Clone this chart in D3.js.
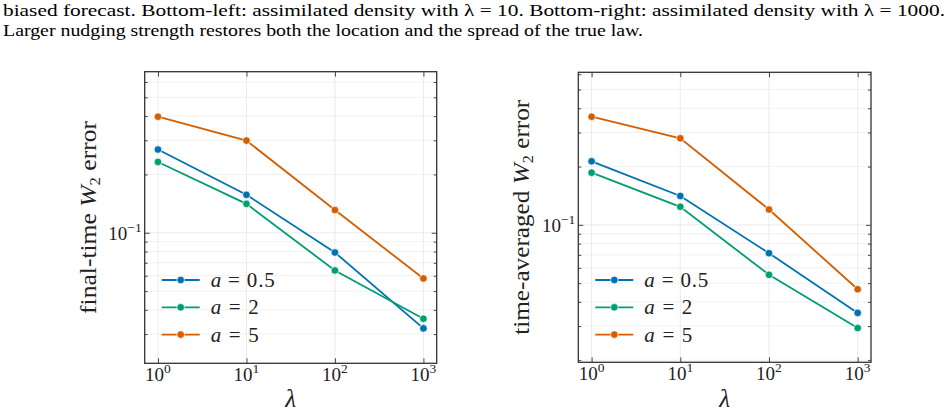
<!DOCTYPE html>
<html>
<head>
<meta charset="utf-8">
<script src="https://cdn.jsdelivr.net/npm/d3@7"></script>
<style>
  body { margin: 0; background: #fff; }
  svg { display: block; }
  .axis path { display: none; }
  .axis line { stroke: #333; stroke-width: 0.9; }
</style>
</head>
<body>
<svg width="951" height="414"></svg>
<script>
const lambdas = [1, 10, 100, 1000];
const xTicks = [1, 10, 100, 1000];
const xExps = ["0", "1", "2", "3"];
const yMajor = [0.1];
const yMinor = [0.02, 0.03, 0.04, 0.05, 0.06, 0.07, 0.08, 0.09, 0.2, 0.3, 0.4, 0.5, 0.6, 0.7];
const seriesNames = ["a = 0.5", "a = 2", "a = 5"];
const seriesColors = ["#0072B2", "#009E73", "#D55E00"];

// final-time W2 error
const finalBlue = [0.269, 0.157, 0.0791, 0.0321];
const finalGreen = [0.232, 0.141, 0.0639, 0.0360];
const finalOrange = [0.397, 0.299, 0.131, 0.0581];

// time-averaged W2 error
const avgBlue = [0.213, 0.141, 0.0714, 0.0351];
const avgGreen = [0.186, 0.124, 0.0552, 0.0293];
const avgOrange = [0.362, 0.280, 0.120, 0.0465];

const caption = [
  "biased forecast. Bottom-left: assimilated density with \u03bb = 10. Bottom-right: assimilated density with \u03bb = 1000.",
  "Larger nudging strength restores both the location and the spread of the true law."
];

const svg = d3.select("svg");
const serif = "'Liberation Serif', 'DejaVu Serif', serif";

svg.append("text")
    .attr("x", 3).attr("y", 16)
    .attr("font-family", serif).attr("font-size", 17)
    .attr("textLength", 942).attr("lengthAdjust", "spacingAndGlyphs")
    .text(caption[0]);
svg.append("text")
    .attr("x", 3).attr("y", 36)
    .attr("font-family", serif).attr("font-size", 17)
    .attr("textLength", 640).attr("lengthAdjust", "spacingAndGlyphs")
    .text(caption[1]);

const drawPanel = (box, yDomain, ylabelPre, ylabelLen, series, ylabelX) => {
    const x = d3.scaleLog().domain([Math.pow(10, -0.15), Math.pow(10, 3.15)]).range([box.left, box.right]);
    const y = d3.scaleLog().domain(yDomain).range([box.bottom, box.top]);
    const g = svg.append("g");

    const inY = (v) => v >= yDomain[0] && v <= yDomain[1];

    // grid
    g.append("g").selectAll("line")
        .data(yMinor.filter(inY))
        .join("line")
        .attr("x1", box.left).attr("x2", box.right)
        .attr("y1", (d) => y(d)).attr("y2", (d) => y(d))
        .attr("stroke", "#ededed").attr("stroke-width", 0.8);
    g.append("g").selectAll("line")
        .data(yMajor)
        .join("line")
        .attr("x1", box.left).attr("x2", box.right)
        .attr("y1", (d) => y(d)).attr("y2", (d) => y(d))
        .attr("stroke", "#e6e6e6").attr("stroke-width", 0.8);
    g.append("g").selectAll("line")
        .data(xTicks)
        .join("line")
        .attr("x1", (d) => x(d)).attr("x2", (d) => x(d))
        .attr("y1", box.top).attr("y2", box.bottom)
        .attr("stroke", "#e6e6e6").attr("stroke-width", 0.8);

    // ticks on all four sides, pointing in
    g.append("g").attr("class", "axis").attr("transform", `translate(0,${box.bottom})`)
        .call(d3.axisBottom(x).tickValues(xTicks).tickSize(-5).tickFormat(""));
    g.append("g").attr("class", "axis").attr("transform", `translate(0,${box.top})`)
        .call(d3.axisTop(x).tickValues(xTicks).tickSize(-5).tickFormat(""));
    g.append("g").attr("class", "axis").attr("transform", `translate(${box.left},0)`)
        .call(d3.axisLeft(y).tickValues(yMajor).tickSize(-5).tickFormat(""));
    g.append("g").attr("class", "axis").attr("transform", `translate(${box.right},0)`)
        .call(d3.axisRight(y).tickValues(yMajor).tickSize(-5).tickFormat(""));
    g.append("g").attr("class", "axis").attr("transform", `translate(${box.left},0)`)
        .call(d3.axisLeft(y).tickValues(yMinor.filter(inY)).tickSize(-3).tickFormat(""));
    g.append("g").attr("class", "axis").attr("transform", `translate(${box.right},0)`)
        .call(d3.axisRight(y).tickValues(yMinor.filter(inY)).tickSize(-3).tickFormat(""));

    // frame
    g.append("rect")
        .attr("x", box.left).attr("y", box.top)
        .attr("width", box.right - box.left).attr("height", box.bottom - box.top)
        .attr("fill", "none").attr("stroke", "#333").attr("stroke-width", 1.3);

    // x tick labels
    xTicks.forEach((t, i) => {
        const tx = g.append("text")
            .attr("x", x(t)).attr("y", box.bottom + 18)
            .attr("text-anchor", "middle")
            .attr("font-family", serif).attr("font-size", 19).attr("fill", "#222")
            .text("10");
        tx.append("tspan").attr("dy", -8).attr("font-size", 13.5).text(xExps[i]);
    });
    // y tick label
    const ty = g.append("text")
        .attr("x", box.left - 3).attr("y", y(0.1) + 7)
        .attr("text-anchor", "end")
        .attr("font-family", serif).attr("font-size", 19).attr("fill", "#222")
        .text("10");
    ty.append("tspan").attr("dy", -8).attr("font-size", 13.5).text("\u22121");

    // axis labels
    g.append("text")
        .attr("x", (box.left + box.right) / 2).attr("y", 407)
        .attr("text-anchor", "middle")
        .attr("font-family", serif).attr("font-size", 25).attr("font-style", "italic").attr("fill", "#222")
        .text("\u03bb");
    const yl = g.append("text")
        .attr("transform", `translate(${ylabelX},${(box.top + box.bottom) / 2}) rotate(-90)`)
        .attr("text-anchor", "middle")
        .attr("font-family", serif).attr("font-size", 23).attr("fill", "#222")
        .attr("textLength", ylabelLen).attr("lengthAdjust", "spacingAndGlyphs");
    yl.append("tspan").text(ylabelPre + " ");
    yl.append("tspan").attr("font-style", "italic").text("W");
    yl.append("tspan").attr("dy", 4).attr("font-size", 15).text("2");
    yl.append("tspan").attr("dy", -4).text(" error");

    // lines and markers
    const line = d3.line()
        .x((d, i) => x(lambdas[i]))
        .y((d) => y(d));
    series.forEach((vals, k) => {
        g.append("path")
            .datum(vals)
            .attr("d", line)
            .attr("fill", "none")
            .attr("stroke", seriesColors[k])
            .attr("stroke-width", 1.8);
        g.append("g").selectAll("circle")
            .data(vals)
            .join("circle")
            .attr("cx", (d, i) => x(lambdas[i]))
            .attr("cy", (d) => y(d))
            .attr("r", 3.8)
            .attr("fill", seriesColors[k])
            .attr("stroke", "#fff").attr("stroke-width", 0.7);
    });

    // legend
    const lx = box.left + 17;
    seriesNames.forEach((name, k) => {
        const ly = 280 + k * 27.3;
        g.append("line")
            .attr("x1", lx).attr("x2", lx + 38)
            .attr("y1", ly).attr("y2", ly)
            .attr("stroke", seriesColors[k]).attr("stroke-width", 1.8);
        g.append("circle")
            .attr("cx", lx + 19).attr("cy", ly).attr("r", 3.8)
            .attr("fill", seriesColors[k]).attr("stroke", "#fff").attr("stroke-width", 0.7);
        const parts = name.split(" = ");
        const t = g.append("text")
            .attr("x", lx + 49).attr("y", ly + 7)
            .attr("font-family", serif).attr("font-size", 21).attr("fill", "#222")
            .attr("textLength", parts[1].length > 1 ? 64 : 48).attr("lengthAdjust", "spacing");
        t.append("tspan").attr("font-style", "italic").text(parts[0]);
        t.append("tspan").text(" = " + parts[1]);
    });
};

drawPanel({left: 144.7, right: 436.7, top: 71.7, bottom: 363.3}, [0.0212, 0.678],
    "final-time", 193, [finalBlue, finalGreen, finalOrange], 96);
drawPanel({left: 578.3, right: 871, top: 72.3, bottom: 362.3}, [0.0195, 0.614],
    "time-averaged", 235, [avgBlue, avgGreen, avgOrange], 529);
</script>
</body>
</html>
